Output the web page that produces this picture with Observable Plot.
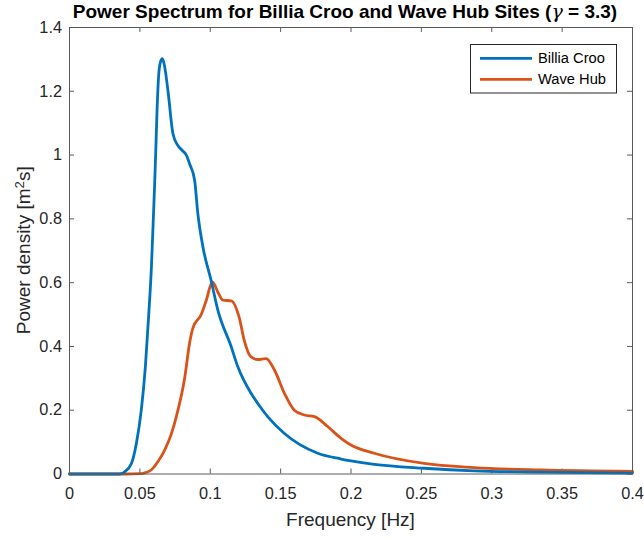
<!DOCTYPE html>
<html><head><meta charset="utf-8">
<script src="https://cdn.jsdelivr.net/npm/d3@7"></script>
<script src="https://cdn.jsdelivr.net/npm/@observablehq/plot@0.6"></script>
<style>body{margin:0;background:#fff} svg{display:block}</style>
</head><body><div id="chart"></div>
<script>
const seriesNames = ["Billia Croo", "Wave Hub"];
const seriesColors = ["#0072BD", "#D95319"];

const billiaFreq  = [0, 0.03, 0.035, 0.0375, 0.0392, 0.044, 0.0475, 0.051, 0.0539, 0.0562, 0.0582, 0.0596, 0.0605, 0.0612, 0.0622, 0.0632, 0.0645, 0.066, 0.0675, 0.070, 0.0735, 0.077, 0.080, 0.083, 0.0853, 0.0889, 0.0912, 0.0948, 0.1007, 0.1054, 0.1149, 0.1196, 0.129, 0.1338, 0.1408, 0.1527, 0.1764, 0.193, 0.2, 0.2165, 0.252, 0.2875, 0.33, 0.4];
const billiaPower = [0, 0, 0, 0.002, 0.007, 0.033, 0.096, 0.20, 0.336, 0.493, 0.649, 0.806, 0.91, 1.0, 1.14, 1.24, 1.29, 1.302, 1.28, 1.20, 1.067, 1.03, 1.015, 1.0, 0.973, 0.921, 0.816, 0.712, 0.605, 0.514, 0.399, 0.336, 0.253, 0.221, 0.18, 0.127, 0.065, 0.047, 0.041, 0.030, 0.018, 0.010, 0.006, 0.003];

const waveHubFreq  = [0, 0.04, 0.05, 0.053, 0.058, 0.063, 0.0676, 0.0723, 0.0759, 0.0818, 0.0853, 0.0877, 0.0936, 0.0972, 0.1015, 0.106, 0.109, 0.1149, 0.1206, 0.1241, 0.129, 0.1338, 0.1397, 0.1456, 0.1527, 0.1597, 0.1668, 0.174, 0.1834, 0.1929, 0.2, 0.2165, 0.252, 0.2875, 0.335, 0.4];
const waveHubPower = [0, 0, 0.001, 0.003, 0.0125, 0.04, 0.075, 0.125, 0.18, 0.30, 0.41, 0.458, 0.50, 0.545, 0.602, 0.565, 0.545, 0.543, 0.49, 0.42, 0.367, 0.359, 0.362, 0.326, 0.253, 0.2, 0.185, 0.18, 0.149, 0.112, 0.091, 0.065, 0.033, 0.02, 0.0125, 0.008];

const xTicks = [0, 0.05, 0.1, 0.15, 0.2, 0.25, 0.3, 0.35, 0.4];
const yTicks = [0, 0.2, 0.4, 0.6, 0.8, 1, 1.2, 1.4];
const xTickLabels = ["0", "0.05", "0.1", "0.15", "0.2", "0.25", "0.3", "0.35", "0.4"];
const yTickLabels = ["0", "0.2", "0.4", "0.6", "0.8", "1", "1.2", "1.4"];

const titleBefore = "Power Spectrum for Billia Croo and Wave Hub Sites (";
const titleGamma = "γ";
const titleAfter = " = 3.3)";
const xLabel = "Frequency [Hz]";
const yLabelBase = "Power density [m";
const yLabelSup = "2";
const yLabelEnd = "s]";

const rows = [
  ...waveHubFreq.map((f, i) => ({series: "Wave Hub", f, p: waveHubPower[i]})),
  ...billiaFreq.map((f, i) => ({series: "Billia Croo", f, p: billiaPower[i]}))
];

const W = 644, H = 539, mL = 69, mR = 12, mT = 27, mB = 65.5;
const iw = W - mL - mR, ih = H - mT - mB;
const axisColor = "#262626";
const frameColor = "#5a5a5a";
const font = "'Liberation Sans', Arial, Helvetica, sans-serif";

const chart = Plot.plot({
  width: W, height: H,
  marginLeft: mL, marginRight: mR, marginTop: mT, marginBottom: mB,
  style: {fontFamily: font, fontSize: "16.3px", color: axisColor, background: "#fff", overflow: "visible"},
  x: {domain: [0, 0.4]},
  y: {domain: [0, 1.4]},
  color: {domain: seriesNames, range: seriesColors},
  marks: [
    Plot.axisX(xTicks, {tickSize: 0, tickPadding: 13, tickFormat: (d) => xTickLabels[xTicks.indexOf(d)], label: null, fontSize: 16.3}),
    Plot.axisY(yTicks, {tickSize: 0, tickPadding: 7.5, tickFormat: (d) => yTickLabels[yTicks.indexOf(d)], label: null, fontSize: 16.3}),
    Plot.tickX(xTicks, {x: d => d, insetTop: ih - 5, stroke: frameColor}),
    Plot.tickX(xTicks, {x: d => d, insetBottom: ih - 5, stroke: frameColor}),
    Plot.tickY(yTicks, {y: d => d, insetRight: iw - 5, stroke: frameColor}),
    Plot.tickY(yTicks, {y: d => d, insetLeft: iw - 5, stroke: frameColor}),
    Plot.line(rows, {x: "f", y: "p", z: "series", stroke: "series", curve: "monotone-x", strokeWidth: 2.8, strokeLinejoin: "round"}),
    Plot.frame({stroke: frameColor, strokeWidth: 1})
  ]
});

document.getElementById("chart").appendChild(chart);
const svg = d3.select(chart);

// Title
const t = svg.append("text")
  .attr("x", 345).attr("y", 18)
  .attr("text-anchor", "middle")
  .attr("font-family", font).attr("font-size", 19).attr("font-weight", "bold").attr("fill", "#000");
t.append("tspan").text(titleBefore);
t.append("tspan").attr("font-family", "'DejaVu Serif', 'Liberation Serif', serif").attr("font-style", "italic").attr("font-weight", "normal").text(titleGamma);
t.append("tspan").text(titleAfter);

// X label
svg.append("text")
  .attr("x", mL + iw / 2).attr("y", 526)
  .attr("text-anchor", "middle")
  .attr("font-family", font).attr("font-size", 19).attr("fill", axisColor)
  .text(xLabel);

// Y label
const yl = svg.append("text")
  .attr("transform", `translate(30,${mT + ih / 2}) rotate(-90)`)
  .attr("text-anchor", "middle")
  .attr("font-family", font).attr("font-size", 19).attr("fill", axisColor);
yl.append("tspan").text(yLabelBase);
yl.append("tspan").attr("font-size", "0.7em").attr("dy", "-0.45em").text(yLabelSup);
yl.append("tspan").attr("dy", "0.315em").text(yLabelEnd);

// Legend
const lg = svg.append("g");
lg.append("rect").attr("x", 470.5).attr("y", 44.5).attr("width", 146).attr("height", 48.5)
  .attr("fill", "#fff").attr("stroke", axisColor).attr("stroke-width", 1);
seriesNames.forEach((name, i) => {
  const yy = 58.3 + i * 21;
  lg.append("line").attr("x1", 480).attr("x2", 532).attr("y1", yy).attr("y2", yy)
    .attr("stroke", seriesColors[i]).attr("stroke-width", 2.8);
  lg.append("text").attr("x", 538).attr("y", yy).attr("dy", "0.35em")
    .attr("text-anchor", "start")
    .attr("font-family", font).attr("font-size", 14.7).attr("fill", "#000").text(name);
});
</script>
</body></html>
